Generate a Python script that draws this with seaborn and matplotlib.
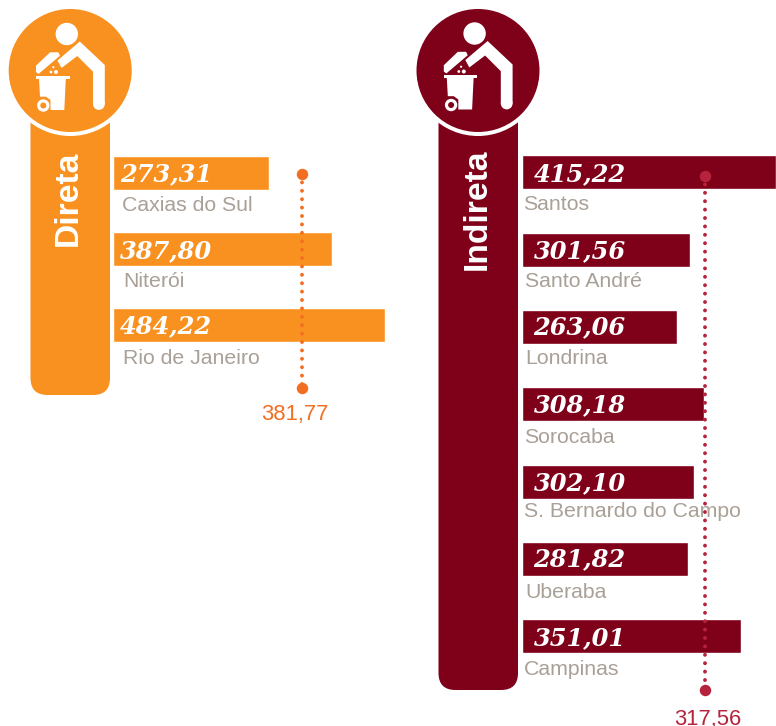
import matplotlib
matplotlib.use("Agg")
import matplotlib.pyplot as plt
from matplotlib.patches import Circle, FancyBboxPatch, Polygon, Rectangle
import pandas as pd
import seaborn as sns

# ---- data ----
cidades_dir = ["Caxias do Sul", "Niterói", "Rio de Janeiro"]
valores_dir = ["273,31", "387,80", "484,22"]
compr_dir = [156, 219, 272]          # drawn bar lengths
media_dir_txt = "381,77"
media_dir_pos = 188                  # drawn position of the average line

cidades_ind = ["Santos", "Santo André", "Londrina", "Sorocaba",
               "S. Bernardo do Campo", "Uberaba", "Campinas"]
valores_ind = ["415,22", "301,56", "263,06", "308,18", "302,10", "281,82", "351,01"]
compr_ind = [254, 168, 155, 182, 172, 166, 219]
media_ind_txt = "317,56"
media_ind_pos = 182

LARANJA, LARANJA_M = "#F99120", "#F26F21"
VINHO, VINHO_M = "#7E0019", "#B5233C"
CINZA = "#A9A097"
W, H = 776, 726

sns.set_theme(style="white")
plt.rcParams["font.family"] = ["Liberation Sans", "DejaVu Sans"]
fig = plt.figure(figsize=(W / 100, H / 100), dpi=100, facecolor="white")

bg = fig.add_axes([0, 0, 1, 1], zorder=0)
bg.set_xlim(0, W)
bg.set_ylim(H, 0)
bg.axis("off")


def cabeca(dx, cor, titulo, bottom, left, tx, ty):
    oy = -0.5 if dx else 0
    t = lambda pts: [(x + dx, y + oy) for x, y in pts]
    bg.add_patch(FancyBboxPatch((left, 90), 79.5, bottom - 90,
                                boxstyle="round,pad=0,rounding_size=17",
                                fc=cor, ec="none", zorder=1))
    bg.add_patch(Circle((70.2 + dx, 70.5), 65.5, fc="white", ec="none", zorder=2))
    bg.add_patch(Circle((70.2 + dx, 70.5), 61.5, fc=cor, ec="none", zorder=3))
    # person and bin pictogram
    kw = dict(fc="white", ec="none", zorder=4)
    bg.add_patch(Circle((66.8 + dx, 34 + oy), 11.2, **kw))
    bg.add_patch(Polygon(t([(57.5, 60.5), (79.8, 41.5), (104.8, 65), (104.8, 104), (93, 104),
                            (93, 71.7), (77.3, 56), (61.5, 68)]), **kw))
    bg.add_patch(Circle((98.9 + dx, 104 + oy), 5.9, **kw))
    bg.add_patch(Polygon(t([(36, 65.7), (36, 72), (38.5, 74), (60, 55.7),
                            (58.3, 52.3), (50, 52.3)]), **kw))
    bg.add_patch(Rectangle((36 + dx, 75.5 + oy), 33.5, 3.2, **kw))
    bg.add_patch(Polygon(t([(39, 78.5), (65.8, 78.5), (64.3, 110), (50.5, 110),
                            (50.5, 100), (46, 96.7), (40, 96.7)]), **kw))
    bg.add_patch(Circle((43.3 + dx, 105.5 + oy), 6.2, **kw))
    bg.add_patch(Circle((43.3 + dx, 105.5 + oy), 3, fc=cor, ec="none", zorder=5))
    for x, y, r in [(51, 72, 1.4), (56, 72, 2), (53.3, 67.2, 1.1)]:
        bg.add_patch(Circle((x + dx, y + oy), r, **kw))
    bg.text(tx, ty, titulo, rotation=90, ha="center", va="center",
            color="white", fontsize=24.2, fontweight="bold", zorder=6)


cabeca(0, LARANJA, "Direta", 395, 30.5, 68, 198)
cabeca(407.8, VINHO, "Indireta", 690, 438.5, 477.5, 209.5)


def painel(x0, x1, y_first, passo, cidades, valores, compr, cor, cor_m, pos, txt,
           y_m0, y_m1, val_dx, cid_dx, cid_dy, val_dy, txt_dx, txt_base):
    n = len(cidades)
    top, bottom = y_first - passo / 2, y_first + (n - 0.5) * passo
    ax = fig.add_axes([x0 / W, 1 - bottom / H, (x1 - x0) / W, (bottom - top) / H], zorder=2)
    ax.patch.set_alpha(0)
    df = pd.DataFrame({"cidade": cidades, "compr": compr})
    sns.barplot(data=df, y="cidade", x="compr", color=cor, saturation=1,
                width=34 / passo, orient="h", ax=ax)
    ax.set_xlim(0, x1 - x0)
    ax.set_ylim(n - 0.5, -0.5)
    ax.axis("off")
    for i, (c, v) in enumerate(zip(cidades, valores)):
        ax.annotate(v, (0, i), xytext=(val_dx[i], -8.5 - val_dy[i]), textcoords="offset pixels",
                    color="white", fontsize=17.4, fontweight="bold", fontstyle="italic",
                    family="DejaVu Serif", ha="left", va="baseline", annotation_clip=False)
        ax.annotate(c, (0, i), xytext=(cid_dx[i], -38.5 - cid_dy[i]), textcoords="offset pixels",
                    color=CINZA, fontsize=15.3, ha="left", va="baseline", annotation_clip=False)
    to_y = lambda p: (p - y_first) / passo
    ax.plot([pos, pos], [to_y(y_m0), to_y(y_m1)], color=cor_m, lw=2.8,
            linestyle=(0, (0.01, 2.15)), dash_capstyle="round", clip_on=False, zorder=5)
    ax.scatter([pos, pos], [to_y(y_m0), to_y(y_m1)], s=68, color=cor_m, linewidths=0,
               clip_on=False, zorder=6)
    ax.annotate(txt, (pos, to_y(y_m1)), xytext=(txt_dx, -txt_base), textcoords="offset pixels",
                color=cor_m, fontsize=15.8, ha="center", va="baseline", annotation_clip=False)


painel(113, 400, 172.6, 76, cidades_dir, valores_dir, compr_dir, LARANJA, LARANJA_M,
       media_dir_pos + 0.5, media_dir_txt, 174, 388,
       val_dx=[7, 7, 7], cid_dx=[9, 10, 10], cid_dy=[0, 0, 1], val_dy=[0, 1, 0],
       txt_dx=-7, txt_base=32)
painel(522, 776, 172.4, 77.33, cidades_ind, valores_ind, compr_ind, VINHO, VINHO_M,
       media_ind_pos + 0.5, media_ind_txt, 176, 690,
       val_dx=[11.5] * 7, cid_dx=[1, 3, 3, 2.5, 2, 3, 2], cid_dy=[-1, -1, -2, 0, -3, 0, 0],
       val_dy=[0, 0, -1, -1, 0, -1, 0], txt_dx=3.5, txt_base=35)

fig.savefig("out.png", dpi=100, facecolor="white")
